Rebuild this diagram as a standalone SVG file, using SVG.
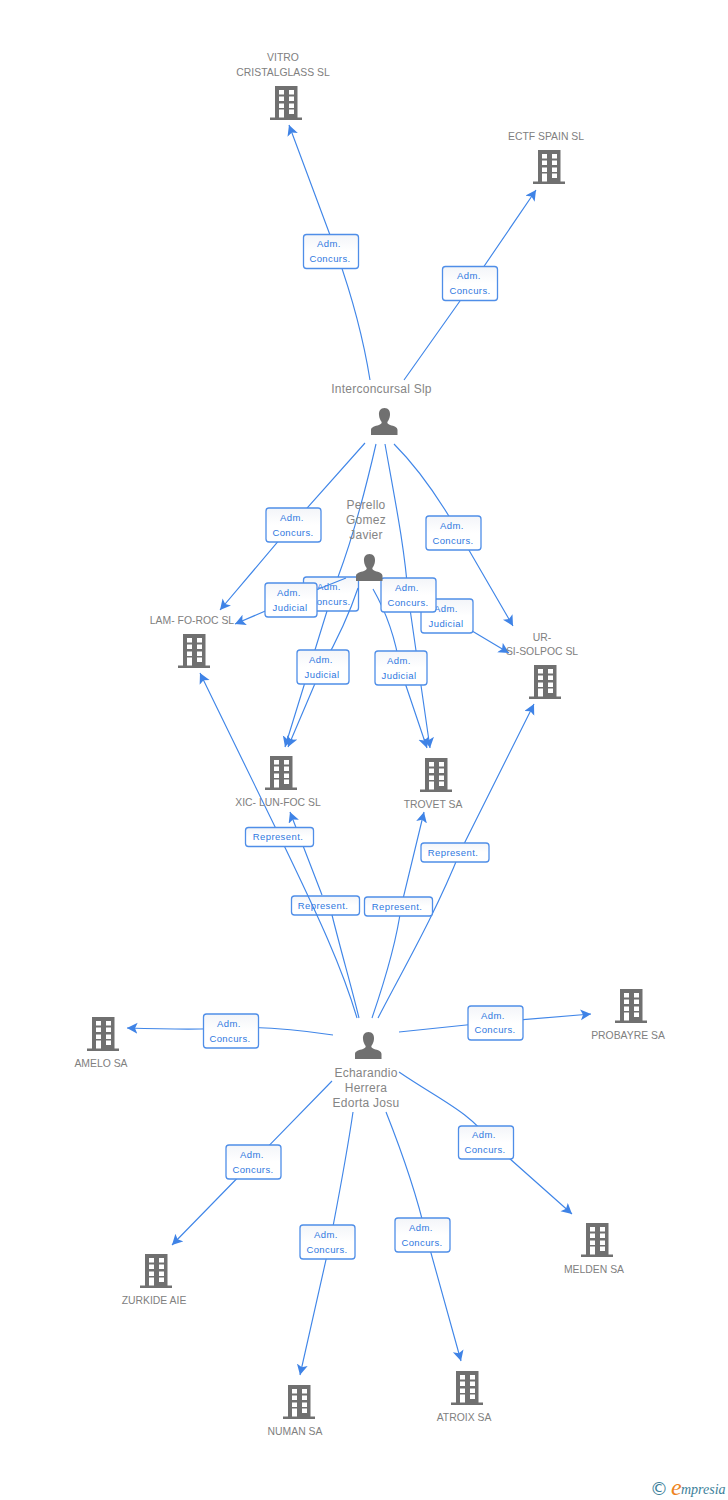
<svg xmlns="http://www.w3.org/2000/svg" width="728" height="1500" viewBox="0 0 728 1500">
<style>
text{font-family:"Liberation Sans",Arial,sans-serif}
.n{font-size:10.4px;fill:#808080;text-anchor:middle}
.p{font-size:12px;fill:#858585;text-anchor:middle;letter-spacing:.25px}
.e{fill:none;stroke:#4086e8;stroke-width:1.15;marker-end:url(#a)}
.b{fill:url(#g);stroke:#4f8ee8;stroke-width:1.3}
.l{font-size:9.500px;fill:#2f78e0;text-anchor:middle;letter-spacing:.4px}
.i{fill:#707070}
</style>
<defs>
<linearGradient id="g" x1="0" y1="0" x2="0" y2="1"><stop offset="0" stop-color="#f3f5f9"/><stop offset=".5" stop-color="#fff"/></linearGradient>
<marker id="a" markerUnits="userSpaceOnUse" markerWidth="13" markerHeight="13" refX="10.500" refY="5.500" orient="auto"><path d="M0 0L10.500 5.500L0 11L2.500 5.500Z" fill="#3f83e6"/></marker>
<symbol id="bd" viewBox="0 0 32 34" width="32" height="34" overflow="visible">
<path class="i" fill-rule="evenodd" d="M5 0H27.500V31.500H32V34H0V31.500H5ZM9 4V8.500H14V4ZM19 4V8.500H24V4ZM9 10.500V15H14V10.500ZM19 10.500V15H24V10.500ZM9 17.500V22H14V17.500ZM19 17.500V22H24V17.500ZM9 23.500V31.500H14V23.500ZM19 23.500V28H24V23.500Z"/>
</symbol>
<symbol id="pr" viewBox="0 0 27 27" width="27" height="27" overflow="visible">
<path class="i" d="M13.500 0C17.500 0 19.300 3 19 7C18.800 10 17.500 12.500 16.300 14C16.300 15.500 17 16 19 17C23 18.200 26.500 19 26.500 22V27H0V22C0 19 4 18.200 8 17C10 16 10.700 15.500 10.700 14C9.500 12.500 8.200 10 8 7C7.700 3 9.500 0 13.500 0Z"/>
</symbol>
</defs>
<rect width="728" height="1500" fill="#fff"/>
<g id="edge-labels-under">
<g><rect class="b" x="303.500" y="577" width="55" height="34" rx="3"/><text class="l" x="329" y="590">Adm.</text><text class="l" x="330" y="605">Concurs.</text></g>
<g><rect class="b" x="291.500" y="896" width="68" height="19" rx="3"/><text class="l" x="323" y="909">Represent.</text></g>
</g>
<g id="connectors">
<path class="e" d="M370 380C362 330 349 285 330 235L289 125"/>
<path class="e" d="M404 380L472 284L536 190"/>
<path class="e" d="M365 443L292 525L220 610"/>
<path class="e" d="M376 444C362 505 350 545 338 577M327 611L285 747"/>
<path class="e" d="M385 444C395 500 405 550 408 595L430 748"/>
<path class="e" d="M394 444C420 470 440 500 459 533L513 626"/>
<path class="e" d="M346 578L291 600L235 624"/>
<path class="e" d="M358 588C350 612 340 635 322 667L288 747"/>
<path class="e" d="M373 589C385 610 395 635 400 668L427 748"/>
<path class="e" d="M382 580C405 595 430 605 447 616L509 653"/>
<path class="e" d="M357 1018C340 960 310 900 280 837L200 673"/>
<path class="e" d="M359 1018C351 985 342 955 332 915M322 895L290 812"/>
<path class="e" d="M372 1018C385 980 397 940 401 907L424 812"/>
<path class="e" d="M378 1018C400 975 435 915 460 852L534 704"/>
<path class="e" d="M333 1035C300 1030 260 1026 230 1028C200 1030 160 1029 127 1028"/>
<path class="e" d="M399 1032L495 1022L591 1014"/>
<path class="e" d="M332 1081L253 1162L172 1245"/>
<path class="e" d="M353 1112C346 1160 338 1200 330 1242L300 1375"/>
<path class="e" d="M386 1112C405 1160 418 1200 426 1235L461 1361"/>
<path class="e" d="M399 1072C440 1100 470 1112 491 1142L572 1214"/>
</g>
<g id="edge-labels">
<g><rect class="b" x="303.500" y="234.500" width="55" height="34" rx="3"/><text class="l" x="329" y="247">Adm.</text><text class="l" x="330" y="262">Concurs.</text></g>
<g><rect class="b" x="442.500" y="266.500" width="55" height="34" rx="3"/><text class="l" x="469" y="279">Adm.</text><text class="l" x="470" y="294">Concurs.</text></g>
<g><rect class="b" x="266" y="508" width="55" height="34" rx="3"/><text class="l" x="292" y="521">Adm.</text><text class="l" x="293" y="536">Concurs.</text></g>
<g><rect class="b" x="426" y="516" width="55" height="34" rx="3"/><text class="l" x="452" y="529">Adm.</text><text class="l" x="453" y="544">Concurs.</text></g>
<g><rect class="b" x="421" y="599" width="52" height="34" rx="3"/><text class="l" x="446" y="612">Adm.</text><text class="l" x="446" y="627">Judicial</text></g>
<g><rect class="b" x="265" y="583" width="52" height="34" rx="3"/><text class="l" x="289" y="596">Adm.</text><text class="l" x="290" y="611">Judicial</text></g>
<g><rect class="b" x="381" y="578" width="55" height="34" rx="3"/><text class="l" x="407" y="591">Adm.</text><text class="l" x="408" y="606">Concurs.</text></g>
<g><rect class="b" x="297" y="650" width="52" height="34" rx="3"/><text class="l" x="321" y="663">Adm.</text><text class="l" x="322" y="678">Judicial</text></g>
<g><rect class="b" x="375" y="651" width="52" height="34" rx="3"/><text class="l" x="399" y="664">Adm.</text><text class="l" x="399" y="679">Judicial</text></g>
<g><rect class="b" x="245.500" y="827.500" width="68" height="19" rx="3"/><text class="l" x="278" y="840">Represent.</text></g>
<g><rect class="b" x="364.500" y="897" width="68" height="19" rx="3"/><text class="l" x="397" y="910">Represent.</text></g>
<g><rect class="b" x="421" y="843" width="68" height="19" rx="3"/><text class="l" x="453" y="856">Represent.</text></g>
<g><rect class="b" x="203.500" y="1014" width="55" height="34" rx="3"/><text class="l" x="229" y="1027">Adm.</text><text class="l" x="230" y="1042">Concurs.</text></g>
<g><rect class="b" x="468" y="1006" width="55" height="34" rx="3"/><text class="l" x="493" y="1019">Adm.</text><text class="l" x="495" y="1033">Concurs.</text></g>
<g><rect class="b" x="226" y="1145" width="55" height="34" rx="3"/><text class="l" x="252" y="1158">Adm.</text><text class="l" x="253" y="1173">Concurs.</text></g>
<g><rect class="b" x="458.500" y="1126" width="55" height="33" rx="3"/><text class="l" x="484" y="1138">Adm.</text><text class="l" x="485" y="1153">Concurs.</text></g>
<g><rect class="b" x="300" y="1225" width="55" height="34" rx="3"/><text class="l" x="326" y="1238">Adm.</text><text class="l" x="327" y="1253">Concurs.</text></g>
<g><rect class="b" x="395" y="1218" width="55" height="34" rx="3"/><text class="l" x="421" y="1231">Adm.</text><text class="l" x="422" y="1246">Concurs.</text></g>
</g>
<g id="n-vitro"><text class="n" x="283" y="61">VITRO</text><text class="n" x="283" y="76">CRISTALGLASS SL</text><use href="#bd" x="270" y="86"/></g>
<g id="n-ectf"><text class="n" x="546" y="140">ECTF SPAIN SL</text><use href="#bd" x="533" y="150"/></g>
<g id="n-inter"><text class="p" x="381.500" y="393">Interconcursal Slp</text><use href="#pr" x="371" y="408"/></g>
<g id="n-perello"><text class="p" x="366" y="509">Perello</text><text class="p" x="366" y="524">Gomez</text><text class="p" x="366" y="539">Javier</text><use href="#pr" x="356" y="554"/></g>
<g id="n-lam"><text class="n" x="192" y="624">LAM- FO-ROC SL</text><use href="#bd" x="178" y="634"/></g>
<g id="n-ur"><text class="n" x="542" y="641">UR-</text><text class="n" x="542" y="655">SI-SOLPOC SL</text><use href="#bd" x="529" y="665"/></g>
<g id="n-xic"><text class="n" x="278" y="806">XIC- LUN-FOC SL</text><use href="#bd" x="265" y="756"/></g>
<g id="n-trovet"><text class="n" x="433" y="808">TROVET SA</text><use href="#bd" x="420" y="758"/></g>
<g id="n-amelo"><text class="n" x="101" y="1067">AMELO SA</text><use href="#bd" x="87" y="1017"/></g>
<g id="n-probayre"><text class="n" x="628" y="1039">PROBAYRE SA</text><use href="#bd" x="615" y="989"/></g>
<g id="n-echa"><use href="#pr" x="355" y="1032"/><text class="p" x="366" y="1077">Echarandio</text><text class="p" x="366" y="1092">Herrera</text><text class="p" x="366" y="1107">Edorta Josu</text></g>
<g id="n-zurkide"><text class="n" x="154" y="1304">ZURKIDE AIE</text><use href="#bd" x="140" y="1254"/></g>
<g id="n-melden"><text class="n" x="594" y="1273">MELDEN SA</text><use href="#bd" x="581" y="1223"/></g>
<g id="n-numan"><text class="n" x="295" y="1435">NUMAN SA</text><use href="#bd" x="283" y="1385"/></g>
<g id="n-atroix"><text class="n" x="464" y="1421">ATROIX SA</text><use href="#bd" x="451" y="1371"/></g>
<g id="logo"><text x="650" y="1495" font-size="18" fill="#3d7f9a" style="font-family:'DejaVu Sans',sans-serif">©</text><text x="671" y="1495" font-size="24" font-style="italic" fill="#ee8320" style="font-family:'Liberation Serif',serif">e</text><text x="681" y="1494" font-size="14" font-style="italic" fill="#3d7f9a" style="font-family:'Liberation Serif',serif">mpresia</text></g>
</svg>
